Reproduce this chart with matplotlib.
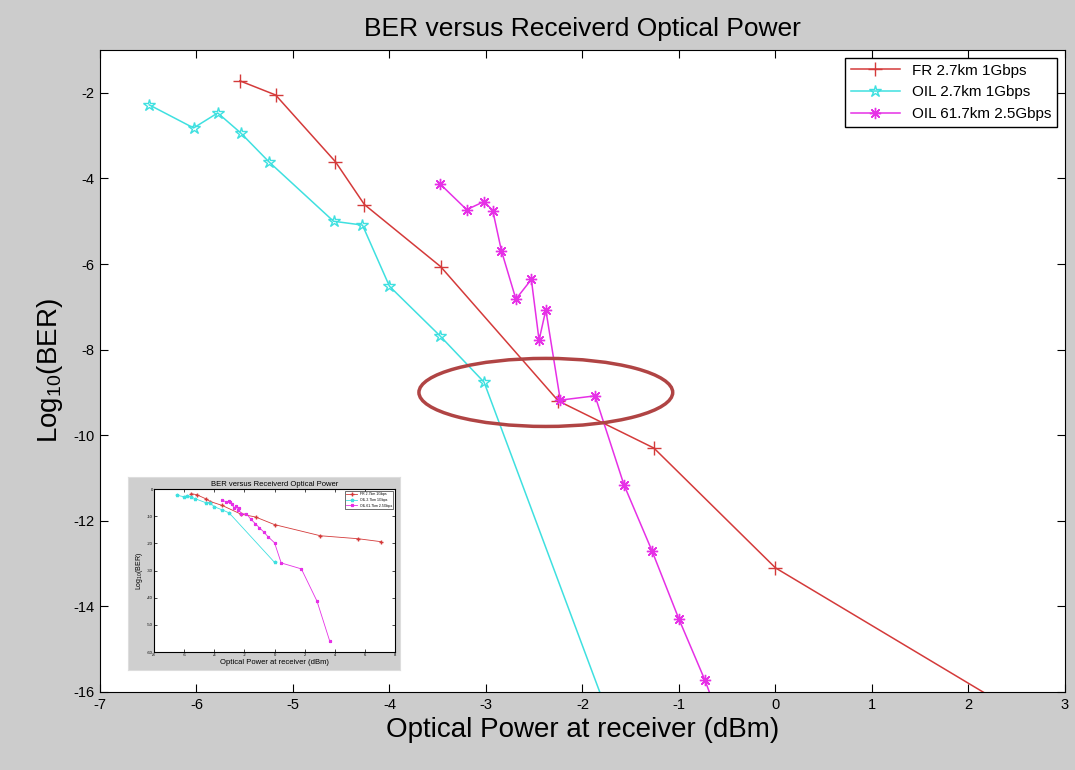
import matplotlib.pyplot as plt
from matplotlib.patches import Ellipse

plt.rcParams['font.family'] = ['Liberation Sans', 'DejaVu Sans']
plt.rcParams['axes.unicode_minus'] = False
plt.rcParams['mathtext.default'] = 'regular'

# FR 2.7km 1Gbps
fr_x = [-5.55, -5.18, -4.56, -4.26, -3.47, -2.25, -1.26, 0.0, 3.04, 5.56, 7.09]
fr_y = [-1.72, -2.05, -3.61, -4.61, -6.06, -9.2, -10.3, -13.1, -17.2, -18.3, -19.4]

# OIL 2.7km 1Gbps
oil1_x = [-6.49, -6.03, -5.78, -5.54, -5.25, -4.58, -4.28, -4.0, -3.48, -3.02, 0.0]
oil1_y = [-2.28, -2.82, -2.47, -2.94, -3.61, -5.0, -5.09, -6.52, -7.67, -8.76, -27.0]

# OIL 61.7km 2.5Gbps
oil2_x = [-3.48, -3.2, -3.02, -2.93, -2.84, -2.69, -2.53, -2.45, -2.38, -2.23, -1.87,
          -1.57, -1.28, -1.0, -0.73, -0.44, 0.0, 0.44, 1.78, 2.82, 3.67]
oil2_y = [-4.12, -4.73, -4.54, -4.75, -5.69, -6.82, -6.36, -7.78, -7.07, -9.18, -9.08,
          -11.16, -12.7, -14.3, -15.73, -17.5, -19.8, -27.2, -29.4, -41.3, -56.1]

labels = ['FR 2.7km 1Gbps', 'OIL 2.7km 1Gbps', 'OIL 61.7km 2.5Gbps']
red = '#d43a3a'
cyan = '#3fe0e0'
mag = '#e630e6'

fig = plt.figure(figsize=(10.75, 7.7), dpi=100, facecolor='#cccccc')
ax = fig.add_axes([0.093, 0.1013, 0.8977, 0.8337])

def draw(a, ms, lw):
    a.plot(fr_x, fr_y, color=red, marker='+', ms=ms * 1.15, lw=lw, label=labels[0])
    a.plot(oil1_x, oil1_y, color=cyan, marker='*', mfc='none', ms=ms, lw=lw, label=labels[1])
    a.plot(oil2_x, oil2_y, color=mag, marker=(8, 2, 0), ms=ms * 0.9, lw=lw, label=labels[2])

draw(ax, 9, 1.1)
ax.set_xlim(-7, 3)
ax.set_ylim(-16, -1)
ax.set_xticks(range(-7, 4))
ax.set_yticks(range(-16, -1, 2))
ax.tick_params(direction='in', top=True, right=True, labelsize=10.5, length=6, pad=4)
ax.set_title('BER versus Receiverd Optical Power', fontsize=19, pad=10)
ax.set_xlabel('Optical Power at receiver (dBm)', fontsize=20, labelpad=4)
ax.set_ylabel('Log$_{10}$(BER)', fontsize=20, labelpad=6)
leg = ax.legend(loc='upper right', fontsize=11, fancybox=False, edgecolor='black',
                framealpha=1, borderaxespad=0.5, handlelength=3.2)
leg.get_frame().set_linewidth(1)

# highlight ellipse
ax.add_patch(Ellipse((-2.38, -9.0), 2.63, 1.59, fill=False, edgecolor='#b04444', lw=2.5, zorder=5))

# inset: the full view of the same curves
box = fig.add_axes([0.119, 0.13, 0.253, 0.2506], facecolor='#cfcfcf')
box.set_xticks([])
box.set_yticks([])
for s in box.spines.values():
    s.set_color('#dddddd')
ins = fig.add_axes([0.1433, 0.1532, 0.2242, 0.2117])
draw(ins, 2.5, 0.6)
ins.set_xlim(-8, 8)
ins.set_ylim(-60, 0)
ins.set_xticks(range(-8, 9, 2))
ins.set_yticks(range(-60, 1, 10))
ins.tick_params(direction='in', top=True, right=True, labelsize=3, length=2, pad=1, width=0.5)
ins.set_title('BER versus Receiverd Optical Power', fontsize=5.5, pad=2)
ins.set_xlabel('Optical Power at receiver (dBm)', fontsize=5.5, labelpad=1)
ins.set_ylabel('Log$_{10}$(BER)', fontsize=5, labelpad=1)
l2 = ins.legend(loc='upper right', fontsize=2.5, fancybox=False, edgecolor='black',
                framealpha=1, handlelength=3)
l2.get_frame().set_linewidth(0.4)

fig.savefig('out.png', dpi=100, facecolor=fig.get_facecolor())
